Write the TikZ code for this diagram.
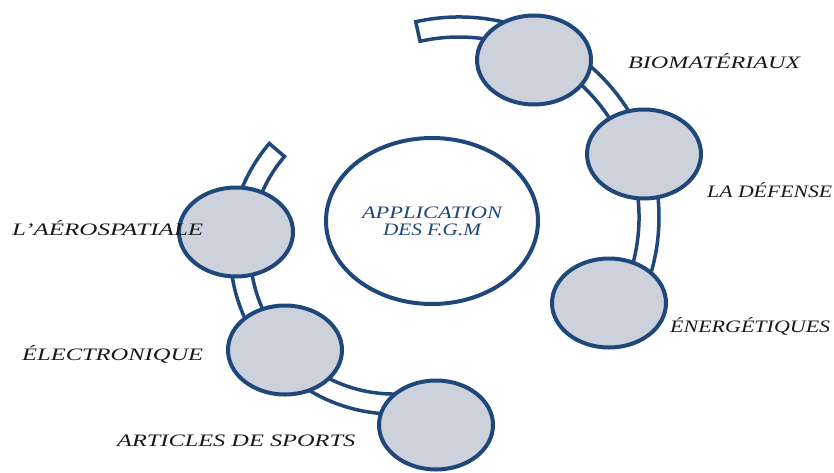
\documentclass[tikz,border=0pt]{standalone}
\usepackage{fontspec}
\setmainfont{Liberation Serif}
\usetikzlibrary{shapes.geometric,shadows}
\definecolor{fgmblue}{RGB}{31,71,122}
\definecolor{fgmfill}{RGB}{205,209,220}
\definecolor{fgmtext}{RGB}{25,25,25}
\newcommand{\fitto}[2]{\resizebox{#1}{\height}{#2}}
\begin{document}
\begin{tikzpicture}[x=1pt,y=1pt,
  bubble/.style={ellipse, draw=fgmblue, line width=4pt, fill=fgmfill,
    minimum width=114pt, minimum height=89pt, inner sep=0pt,
    drop shadow={opacity=0.18, shadow xshift=1.5pt, shadow yshift=-1.5pt}},
  hub/.style={ellipse, draw=fgmblue, line width=4pt, fill=white,
    minimum width=212pt, minimum height=166pt, inner sep=0pt,
    align=center, text=fgmblue,
    font=\fontsize{17.5}{17}\selectfont\itshape},
  band/.style={draw=fgmblue, line width=3.5pt, fill=white, line join=miter},
  lbl/.style={anchor=base west, inner sep=0pt, text=fgmtext,
    font=\fontsize{17.5}{20}\selectfont\itshape}]
\useasboundingbox (0,0) rectangle (834,-472);
\fill[white] (0,0) rectangle (834,-472);

% bands
\draw[band] ([shift={(102.5:200)}]459,-217) arc[start angle=102.5,end angle=-28,radius=200]
  -- ([shift={(-28:180)}]459,-217) arc[start angle=-28,end angle=102.5,radius=180] -- cycle;
\draw[band] ([shift={(139.5:164)}]394,-250) arc[start angle=139.5,end angle=275,radius=164]
  -- ([shift={(275:144)}]394,-250) arc[start angle=275,end angle=139.5,radius=144] -- cycle;

% hub
\node[hub] (hub) at (432,-221) {\fitto{140pt}{APPLICATION}\\\fitto{98pt}{DES F.G.M}};

% bubbles
\node[bubble] (bio) at (534,-60) {};
\node[bubble] (def) at (644,-154) {};
\node[bubble] (ene) at (609,-303) {};
\node[bubble] (aer) at (236,-232) {};
\node[bubble] (ele) at (285,-350) {};
\node[bubble] (spo) at (436,-425) {};

% labels
\node[lbl] (lbio) at (628,-68) {\fitto{172pt}{BIOMATÉRIAUX}};
\node[lbl] (ldef) at (707,-197) {\fitto{125pt}{LA DÉFENSE}};
\node[lbl] (lene) at (670,-332) {\fitto{160pt}{ÉNERGÉTIQUES}};
\node[lbl] (laer) at (12,-235) {\fitto{191pt}{L’AÉROSPATIALE}};
\node[lbl] (lele) at (22,-360) {\fitto{181pt}{ÉLECTRONIQUE}};
\node[lbl] (lspo) at (117,-446) {\fitto{238pt}{ARTICLES DE SPORTS}};
\end{tikzpicture}
\end{document}
